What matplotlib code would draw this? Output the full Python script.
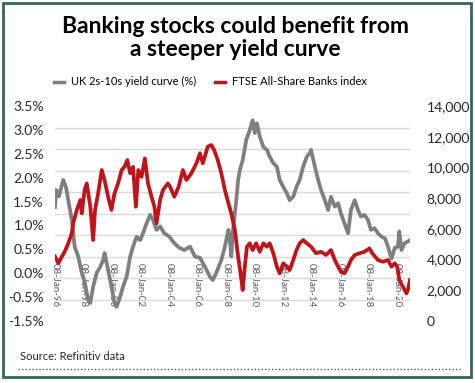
import numpy as np
import matplotlib
matplotlib.use("Agg")
import matplotlib.pyplot as plt
from matplotlib.lines import Line2D
from matplotlib.patches import Rectangle

plt.rcParams['font.family'] = ['Lato', 'DejaVu Sans']

# UK 2s-10s yield curve (%), left axis  -- x in decimal years
curve_x = [1996.02, 1996.1, 1996.3, 1996.45, 1996.6, 1996.8, 1996.95, 1997.2, 1997.4, 1997.65,
           1997.9, 1998.1, 1998.35, 1998.5, 1998.7, 1998.95, 1999.2, 1999.4, 1999.5, 1999.75,
           1999.98, 2000.2, 2000.35, 2000.6, 2000.8, 2001.05, 2001.3, 2001.5, 2001.75, 2002.0,
           2002.2, 2002.45, 2002.7, 2002.9, 2003.15, 2003.4, 2003.7, 2004.05, 2004.4, 2004.75,
           2005.1, 2005.5, 2005.85, 2006.2, 2006.55, 2006.9, 2007.1, 2007.35, 2007.7, 2007.95,
           2008.2, 2008.3, 2008.4, 2008.5, 2008.75, 2008.88, 2009.0, 2009.2, 2009.45, 2009.7,
           2009.9, 2010.05, 2010.2, 2010.4, 2010.65, 2010.9, 2011.1, 2011.35, 2011.6, 2011.8,
           2012.05, 2012.3, 2012.5, 2012.75, 2012.98, 2013.2, 2013.45, 2013.7, 2013.9, 2014.0,
           2014.27, 2014.5, 2014.7, 2014.97, 2015.2, 2015.4, 2015.67, 2015.9, 2016.1, 2016.35,
           2016.6, 2016.8, 2017.07, 2017.3, 2017.5, 2017.75, 2018.0, 2018.2, 2018.45, 2018.7,
           2018.95, 2019.2, 2019.4, 2019.65, 2019.88, 2020.1, 2020.2, 2020.35, 2020.57, 2020.8,
           2020.95]
curve_y = [1.15, 1.55, 1.4, 1.6, 1.78, 1.6, 1.31, 0.85, 0.23, 0.0,
           -0.38, -0.59, -1.01, -1.08, -0.7, -0.38, -0.24, -0.08, 0.08, -0.31,
           -0.7, -1.08, -1.17, -0.93, -0.7, -0.47, 0.0, 0.23, 0.46, 0.38,
           0.54, 0.77, 0.97, 0.85, 0.62, 0.7, 0.54, 0.46, 0.31, 0.2,
           0.15, 0.23, 0.0, -0.03, -0.24, -0.47, -0.55, -0.38, -0.08, 0.23,
           0.62, 0.38, 0.0, 0.54, 1.31, 1.78, 2.01, 2.24, 2.71, 2.94,
           3.17, 2.87, 3.1, 2.79, 2.55, 2.48, 2.32, 2.17, 2.09, 1.78,
           1.62, 1.47, 1.31, 1.39, 1.62, 1.78, 2.09, 2.32, 2.4, 2.48,
           2.09, 1.78, 1.55, 1.31, 1.08, 1.39, 1.16, 1.24, 1.0, 0.77,
           0.54, 1.08, 1.31, 1.08, 0.93, 0.97, 0.85, 0.62, 0.66, 0.54,
           0.46, 0.42, 0.23, -0.05, 0.2, 0.23, 0.58, 0.15, 0.31, 0.35,
           0.38]

# FTSE All-Share Banks index, right axis
banks_x = [1996.02, 1996.25, 1996.5, 1996.7, 1996.95, 1997.2, 1997.3, 1997.55, 1997.8, 1997.9,
           1998.1, 1998.25, 1998.5, 1998.7, 1998.83, 1999.05, 1999.3, 1999.5, 1999.75, 1999.98,
           2000.2, 2000.45, 2000.7, 2000.9, 2001.1, 2001.3, 2001.5, 2001.7, 2001.87, 2002.1,
           2002.33, 2002.55, 2002.8, 2003.0, 2003.15, 2003.4, 2003.6, 2003.95, 2004.1, 2004.4,
           2004.7, 2005.0, 2005.25, 2005.6, 2005.95, 2006.2, 2006.4, 2006.75, 2007.0, 2007.2,
           2007.45, 2007.7, 2007.95, 2008.2, 2008.4, 2008.65, 2008.88, 2009.05, 2009.2, 2009.35,
           2009.5, 2009.7, 2009.9, 2010.15, 2010.4, 2010.65, 2010.9, 2011.1, 2011.35, 2011.6,
           2011.8, 2012.05, 2012.3, 2012.5, 2012.75, 2012.98, 2013.2, 2013.45, 2013.7, 2014.0,
           2014.35, 2014.7, 2015.05, 2015.4, 2015.67, 2015.9, 2016.1, 2016.35, 2016.6, 2016.8,
           2017.07, 2017.4, 2017.75, 2018.1, 2018.3, 2018.7, 2019.05, 2019.4, 2019.65, 2019.88,
           2020.05, 2020.2, 2020.45, 2020.7, 2020.8, 2020.95]
banks_y = [4200, 3760, 4190, 4510, 5060, 5710, 6360, 7230, 7880, 7010,
           8530, 8960, 7440, 5270, 7230, 8310, 9830, 9180, 8090, 7230,
           8310, 8960, 9830, 10040, 10480, 9620, 10040, 7440, 9830, 9390,
           10590, 8960, 8090, 7440, 6360, 7880, 8530, 8960, 8740, 8090,
           8740, 9830, 9180, 9620, 10270, 10920, 10270, 11350, 11460, 11130,
           10480, 9620, 8530, 7660, 7010, 5920, 4190, 3100, 2020, 3540,
           4840, 5060, 4620, 5060, 4510, 5060, 4840, 5060, 4410, 3540,
           3100, 3760, 3540, 3320, 3970, 4620, 5060, 5270, 5060, 4840,
           4410, 4510, 4300, 4620, 3970, 3540, 3210, 3100, 3540, 3970,
           4300, 4410, 4510, 4730, 4410, 3970, 3860, 3970, 3540, 3760,
           3540, 2670, 2230, 1800, 2020, 2670]

left_tick_labels = ['3.5%', '3.0%', '2.5%', '2.0%', '1.5%', '1.0%', '0.5%', '0.0%', '-0.5%', '-1.5%']
right_ticks = [0, 2000, 4000, 6000, 8000, 10000, 12000, 14000]
date_ticks = [y + 0.02 for y in range(1996, 2021, 2)]
date_labels = ['08-Jan-%02d' % (y % 100) for y in range(1996, 2021, 2)]

GRAY = '#7f7f7f'
RED = '#c0141c'


def main():
    fig = plt.figure(figsize=(4.75, 3.83), dpi=100)
    ax1 = fig.add_axes([55 / 475, 1 - 321 / 383, (410 - 55) / 475, (321 - 106) / 383])
    ax2 = ax1.twinx()

    ax1.plot(curve_x, curve_y, color=GRAY, lw=2.7, solid_joinstyle='round')
    ax2.plot(banks_x, banks_y, color=RED, lw=2.7, solid_joinstyle='round')

    ax1.set_xlim(curve_x[0], curve_x[-1])
    ax1.set_ylim(-1.5, 3.5)
    ax2.set_ylim(0, 14000)

    # left axis: labels as printed, grid every 0.5%
    ax1.set_yticks(np.linspace(3.5, -1.5, len(left_tick_labels)))
    ax1.set_yticklabels(left_tick_labels)
    ax1.set_yticks(np.arange(-1.5, 3.51, 0.5), minor=True)
    ax1.yaxis.grid(True, which='minor', color='#d9d9d9', lw=1)
    ax1.tick_params(axis='y', which='both', length=0, pad=8, labelsize=10, labelcolor='#262626')

    ax2.set_yticks(right_ticks)
    ax2.set_yticklabels(['{:,}'.format(v) for v in right_ticks])
    ax2.tick_params(axis='y', length=0, pad=12, labelsize=10, labelcolor='#262626')

    ax1.set_xticks(date_ticks)
    ax1.set_xticklabels(date_labels)
    ax1.spines['bottom'].set_position(('data', 0))
    ax1.tick_params(axis='x', length=0, pad=4.5, labelrotation=270, labelsize=7, labelcolor='#595959')

    for ax in (ax1, ax2):
        for s in ax.spines.values():
            s.set_visible(False)

    fig.text(0.495, 0.9, 'Banking stocks could benefit from\na steeper yield curve',
             ha='center', va='center', fontsize=16.5, fontweight='bold', linespacing=1.12)

    handles = [Line2D([], [], color=GRAY, lw=2.5), Line2D([], [], color=RED, lw=2.5)]
    fig.legend(handles, ['UK 2s-10s yield curve (%)', 'FTSE All-Share Banks index'],
               loc='center', bbox_to_anchor=(0.443, 0.786), ncol=2, frameon=False,
               fontsize=8, handlelength=0.9, handletextpad=0.7, columnspacing=1.6)

    fig.text(20 / 475, 1 - 357 / 383, 'Source: Refinitiv data', fontsize=8, va='center', color='#262626')
    fig.add_artist(Line2D([18 / 475, 462 / 475], [1 - 369 / 383] * 2, transform=fig.transFigure,
                          color='#555555', lw=1, linestyle=(0, (1, 1.5))))
    fig.add_artist(Rectangle((3 / 475, 1 - 377 / 383), 468 / 475, 374 / 383, transform=fig.transFigure,
                             fill=False, edgecolor='#35645c', lw=2))

    fig.savefig('out.png', dpi=100)


if __name__ == "__main__":
    main()
